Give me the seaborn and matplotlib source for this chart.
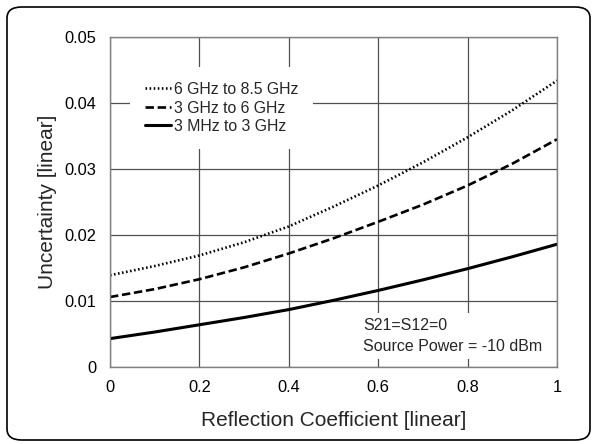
import matplotlib
matplotlib.use("Agg")
import matplotlib.pyplot as plt
import seaborn as sns
import pandas as pd
from matplotlib.patches import FancyBboxPatch

# Reflection coefficient sample points
gamma = [0.0, 0.1, 0.2, 0.3, 0.4, 0.5, 0.6, 0.7, 0.8, 0.9, 1.0]

# Uncertainty per frequency band
band_hi = [0.0139, 0.0153, 0.0169, 0.0189, 0.0213, 0.0243, 0.0275, 0.0310, 0.0348, 0.0389, 0.0434]
band_mid = [0.0106, 0.0118, 0.0133, 0.0151, 0.0172, 0.0195, 0.0220, 0.0246, 0.0275, 0.0308, 0.0345]
band_lo = [0.0043, 0.0053, 0.0064, 0.0075, 0.0087, 0.0101, 0.0116, 0.0132, 0.0149, 0.0167, 0.0186]

labels = ["6 GHz to 8.5 GHz", "3 GHz to 6 GHz", "3 MHz to 3 GHz"]
x_ticks = [0, 0.2, 0.4, 0.6, 0.8, 1.0]
x_ticklabels = ["0", "0.2", "0.4", "0.6", "0.8", "1"]
y_ticks = [0, 0.01, 0.02, 0.03, 0.04, 0.05]
y_ticklabels = ["0", "0.01", "0.02", "0.03", "0.04", "0.05"]

df = pd.concat([
    pd.DataFrame({"gamma": gamma, "u": vals, "band": lab})
    for vals, lab in zip([band_hi, band_mid, band_lo], labels)
])

sns.set_theme(style="white")
plt.rcParams["font.family"] = ["Liberation Sans", "DejaVu Sans"]

W, H = 592, 444
fig = plt.figure(figsize=(W / 100, H / 100), dpi=100)
ax = fig.add_axes([110 / W, 1 - 367 / H, (557 - 110) / W, (367 - 37) / H])

# rounded outer frame
frame = FancyBboxPatch((7 / W, 1 - 440 / H), (590 - 7) / W, (440 - 7) / H,
                       boxstyle="round,pad=0,rounding_size=0.025",
                       transform=fig.transFigure, fill=False,
                       edgecolor="black", linewidth=1.2, zorder=0)
fig.patches.append(frame)

dashes = {labels[0]: (0.6, 0.95), labels[1]: (3.2, 1.4), labels[2]: ""}
sns.lineplot(data=df, x="gamma", y="u", hue="band", style="band",
             palette=["black"] * 3, dashes=dashes, ax=ax, legend=False,
             linewidth=1.9)
ax.lines[2].set_linewidth(2.2)

ax.set_xlim(0, 1)
ax.set_ylim(0, 0.05)
ax.set_xticks(x_ticks)
ax.set_xticklabels(x_ticklabels)
ax.set_yticks(y_ticks)
ax.set_yticklabels(y_ticklabels)
ax.tick_params(axis="both", length=0, labelsize=11.8, colors="black")
ax.tick_params(axis="x", pad=9)
ax.tick_params(axis="y", pad=10)
ax.grid(True, color="#505050", linewidth=0.9)
ax.set_axisbelow(True)
for s in ax.spines.values():
    s.set_color("#808080")
    s.set_linewidth(1.0)

ax.set_xlabel("Reflection Coefficient [linear]", fontsize=15, labelpad=12)
ax.set_ylabel("Uncertainty [linear]", fontsize=15, labelpad=5)

handles = ax.lines[:3]
leg = ax.legend(handles, labels, loc="upper left",
                bbox_to_anchor=(20 / 447, 1 - 30 / 330),
                fontsize=11.4, frameon=True, handlelength=1.65,
                handletextpad=0.15, labelspacing=0.22, borderpad=0.95,
                borderaxespad=0)
leg.get_frame().set_facecolor("white")
leg.get_frame().set_edgecolor("none")
leg.get_frame().set_alpha(1)

ax.text(253 / 447, 1 - 299 / 330, "S21=S12=0\nSource Power = -10 dBm",
        transform=ax.transAxes, fontsize=11.5, va="center", ha="left",
        linespacing=1.42,
        bbox=dict(facecolor="white", edgecolor="none", pad=4))

fig.savefig("out.png", dpi=100)
